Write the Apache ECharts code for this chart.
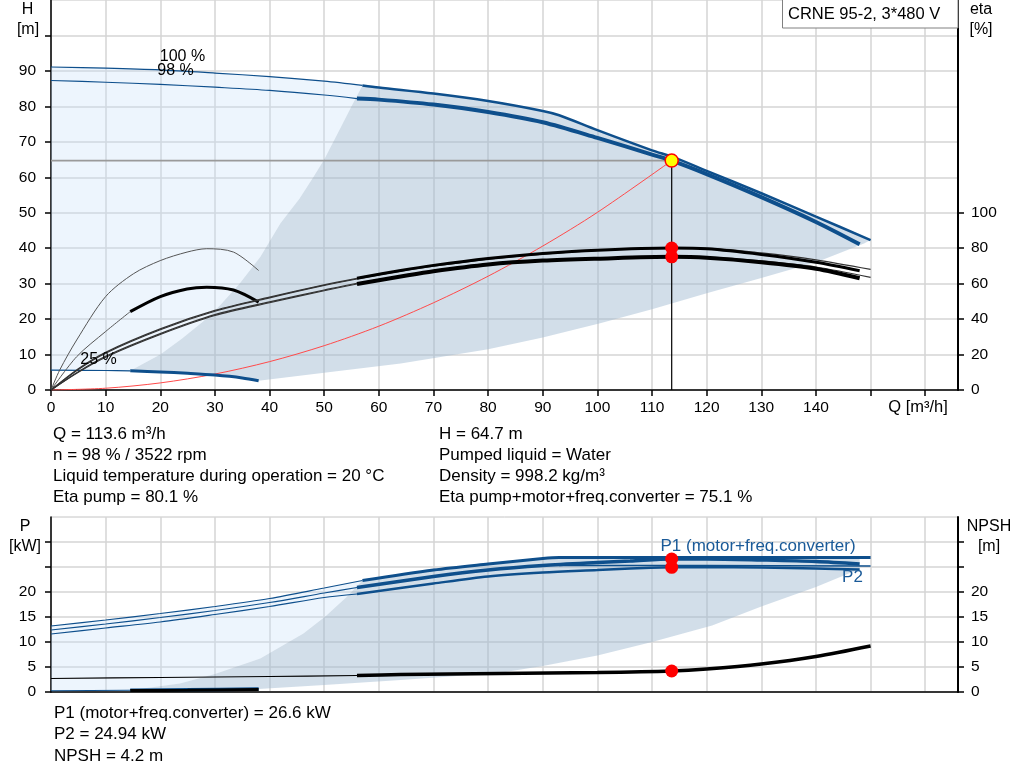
<!DOCTYPE html>
<html><head><meta charset="utf-8">
<script src="https://cdn.jsdelivr.net/npm/echarts@6/dist/echarts.min.js"></script>
<style>html,body{margin:0;padding:0;background:#fff}#c{width:1024px;height:781px}</style>
</head><body><div id="c"></div>
<script>
// ---------- axis ticks / labels ----------
const qTicks = [0,10,20,30,40,50,60,70,80,90,100,110,120,130,140,150,160];
const qLabels = [0,10,20,30,40,50,60,70,80,90,100,110,120,130,140];
const hTicks = [0,10,20,30,40,50,60,70,80,90,100];
const hLabels = [0,10,20,30,40,50,60,70,80,90];
const etaTicks = [0,20,40,60,80,100];
const pTicks = [0,5,10,15,20,25,30];
const pLabels = [0,5,10,15,20];

// ---------- operating point ----------
const opQ = 113.6, opH = 64.7, opEtaPump = 80.1, opEtaTot = 75.1, opP1 = 26.6, opP2 = 24.94, opNPSH = 4.2;

// ---------- head curves [Q, H] ----------
const H100 = [[0,91.1],[10,90.8],[20,90.3],[30,89.4],[40,88.4],[50,87.1],[57,85.9],[60,85.3],[70,83.6],[80,81.5],[90,78.7],[93,77.5],[100,73.3],[110,67.6],[114,65.6],[120,61.8],[130,55.5],[140,48.9],[150,42.3]];
const H98 = [[0,87.3],[10,86.8],[20,86.2],[30,85.4],[40,84.5],[50,83.2],[56,82.2],[60,81.9],[70,80.5],[80,78.4],[90,75.5],[100,71.1],[110,66.4],[113.6,64.7],[120,60.9],[130,54.4],[140,47.4],[148,41.1]];
const H25 = [[0,5.6],[10,5.5],[14.5,5.4],[20,5.1],[25,4.7],[30,4.2],[35,3.4],[38,2.6]];
const SYS = [[0,0],[10,0.5],[20,2.0],[30,4.5],[40,8.0],[50,12.5],[60,18.0],[70,24.6],[80,32.1],[90,40.6],[100,50.1],[113.6,64.7]];
const darkLeftTop = [[14.5,5.4],[20,10],[24,14.5],[28,19.5],[31,24],[34.5,30],[38.3,37.5],[42,47],[45.5,54],[48,60],[50,65],[53,74],[55,80],[57,85.9]];
const darkLowTop = [[38,2.6],[50,4.9],[64,7.5],[80,11.5],[90,14.8],[100.5,18.8],[110,22.8],[120,27.3],[130,31.6],[140.3,36.2],[148.8,41.3]];

// ---------- efficiency curves [Q, eta %] ----------
const etaPump98 = [[0,0],[5,12],[10,21.3],[20,34.5],[30,44.9],[40,52.4],[50,59.3],[56,63],[64,67.4],[70,70.3],[80,74.2],[90,77],[100,78.9],[113.6,80.1],[120,79.7],[130,76.5],[140,72.1],[148,67.3]];
const etaPump100 = [[0,0],[5,11.6],[10,20.8],[20,34],[30,44.4],[40,52],[50,59],[56,62.6],[64,67],[70,69.8],[80,73.8],[90,76.7],[100,78.7],[110,79.9],[120,79.9],[130,77.3],[140,73.4],[150,68]];
const etaTot98 = [[0,0],[5,10],[10,18.5],[20,31.3],[30,42],[40,49.2],[50,56],[56,59.8],[64,64],[70,67],[80,70.8],[90,73],[100,74.1],[113.6,75.1],[120,74.6],[130,72.1],[140,68.4],[148,63]];
const etaTot100 = [[0,0],[5,10.3],[10,19],[20,31.8],[30,42.5],[40,49.7],[50,56.4],[56,60.2],[64,64.3],[70,67.3],[80,71],[90,73.2],[100,74.3],[110,75.1],[120,75],[130,72.8],[140,69.4],[150,63.5]];
const etaArch1 = [[0,0],[1.6,11.3],[4.7,28.2],[10,52.7],[15.1,65.6],[20,73],[24.9,77.8],[28.5,79.7],[33.4,77.8],[38,67.4]];
const etaArch2 = [[0,0],[4.7,18.8],[10,33],[14.5,44.2],[20,52.7],[24.9,57],[28.5,58],[33.4,56.4],[38,49.6]];

// ---------- power / NPSH curves [Q, value] ----------
const P1_100 = [[0,13.2],[10,14.4],[20,15.7],[30,17.1],[40,18.7],[50,20.8],[57,22.3],[70,24.4],[80,25.6],[90,26.7],[93,26.9],[100,26.9],[110,26.9],[120,26.9],[130,26.9],[140,26.9],[148,26.9],[150,26.9]];
const P1_98 = [[0,12.4],[10,13.6],[20,14.9],[30,16.3],[40,17.9],[50,19.8],[56,20.9],[70,23.1],[80,24.4],[90,25.3],[100,25.9],[106,26.2],[113.6,26.6],[120,26.6],[130,26.4],[140,26.1],[148,25.6]];
const P2_98 = [[0,11.6],[10,12.8],[20,14.0],[30,15.5],[40,17.1],[50,18.9],[56,19.6],[70,21.7],[80,23.1],[90,23.9],[100,24.4],[106,24.7],[113.6,24.94],[120,25.0],[130,24.9],[140,24.7],[148,24.5]];
const P2_100 = [[93,25.3],[100,25.3],[120,25.3],[150,25.2]];
const P25 = [[0,0.25],[14.5,0.35],[25,0.45],[38,0.6]];
const NPSH = [[0,2.7],[20,2.9],[40,3.1],[56,3.3],[64,3.5],[82,3.7],[100,3.9],[113.6,4.2],[120,4.6],[130,5.6],[140,7.1],[150,9.2]];
const NPSH25 = [[14.5,0.3],[25,0.35],[38,0.5]];
const bLeft = [[14.5,0.35],[23.6,1.7],[30,3.6],[38.3,6.7],[46.2,11.7],[50.2,15.1],[54.2,19.1],[57,22.3]];
const bLow = [[38,0.6],[50,1.4],[64,2.4],[73,3.1],[82,3.8],[90,5.2],[100,7.3],[110,10],[121,13.3],[130,17.1],[140,21],[146,23.7],[148,24.5]];

// ---------- styling ----------
const FF = '"Liberation Sans", Arial, sans-serif';
const BLUE = '#0e4f8c';
const GRIDC = '#d4d4d4';
const LIGHT = 'rgba(200,225,250,0.32)';
const DARK = 'rgba(160,185,210,0.48)';

const rng = (arr, a, b) => arr.filter(p => p[0] >= a && p[0] <= b);
const rev = arr => arr.slice().reverse();

// polygons built from the named arrays
const lightTop = [...rng(H100,0,57), ...rev(darkLeftTop), ...rev(rng(H25,0,14.5))];
const darkTop = [...darkLeftTop, ...rng(H100,57.01,150), ...rev(darkLowTop), ...rev(rng(H25,14.51,37.9))];
const lightBot = [...rng(P1_100,0,57), ...rev(bLeft), ...rev(rng(P25,0,14.5))];
const darkBot = [...bLeft, ...rng(P1_100,57.01,148), ...rev(bLow), ...rev(rng(P25,14.51,37.9))];

function poly(points, fill, xi, yi) {
  return { type:'custom', xAxisIndex:xi, yAxisIndex:yi, silent:true, z:1, clip:true, animation:false,
    data:[points[0]],
    renderItem:function(params, api){
      return {type:'polygon', shape:{points:points.map(p=>api.coord(p)), smooth:0}, style:{fill:fill}};
    }};
}
function ln(data, color, width, xi, yi, z, smooth) {
  return { type:'line', data:data, xAxisIndex:xi, yAxisIndex:yi, symbol:'none', showSymbol:false,
    smooth: smooth === undefined ? 0.3 : smooth, clip:true, silent:true, animation:false,
    z: z || 3, lineStyle:{color:color, width:width} };
}
function dot(pt, xi, yi, fill, stroke, size) {
  return { type:'scatter', data:[pt], xAxisIndex:xi, yAxisIndex:yi, symbol:'circle', symbolSize:size,
    silent:true, animation:false, z:10,
    itemStyle:{color:fill, borderColor:stroke, borderWidth: stroke ? 1.5 : 0, opacity:1} };
}

const lbl = (vals, margin) => ({customValues:vals, color:'#000', fontSize:15.5, fontFamily:FF, margin:margin});
const tick = (vals, show) => ({show:show, customValues:vals, length:6, inside:false, lineStyle:{color:'#000', width:1.5}});
const axLine = w => ({show:true, onZero:false, lineStyle:{color:'#000', width:w}});
const split = show => ({show:show, lineStyle:{color:GRIDC, width:1.5}});

const series = [
  poly(lightTop, LIGHT, 0, 0),
  poly(darkTop, DARK, 0, 0),
  ln(SYS, '#ff4a4a', 1, 0, 0, 3),
  ln([[0,opH],[opQ,opH]], '#9a9a9a', 1.6, 0, 0, 3, false),
  ln([[opQ,0],[opQ,opH]], '#000', 1.2, 0, 0, 4, false),
  ln(rng(H25,0,14.5), BLUE, 1.2, 0, 0),
  ln(rng(H25,14.5,38), BLUE, 3, 0, 0),
  ln(rng(H100,0,57), BLUE, 1.2, 0, 0),
  ln(rng(H100,57,150), BLUE, 2.5, 0, 0),
  ln(rng(H98,0,56), BLUE, 1.2, 0, 0),
  ln(rng(H98,56,150), BLUE, 4, 0, 0),
  ln(etaArch1, '#555', 1, 0, 1),
  ln(rng(etaArch2,0,14.5), '#555', 1, 0, 1),
  ln(rng(etaArch2,14.5,38), '#000', 3, 0, 1),
  ln(rng(etaPump100,0,150), '#333', 1.2, 0, 1),
  ln(rng(etaTot100,0,150), '#333', 1.2, 0, 1),
  ln(rng(etaPump98,0,56), '#333', 1.2, 0, 1),
  ln(rng(etaTot98,0,56), '#333', 1.2, 0, 1),
  ln(rng(etaPump98,56,150), '#000', 3, 0, 1),
  ln(rng(etaTot98,56,150), '#000', 4, 0, 1),
  dot([opQ,opEtaPump], 0, 1, '#ff0000', null, 13),
  dot([opQ,opEtaTot], 0, 1, '#ff0000', null, 13),
  dot([opQ,opH], 0, 0, '#ffff00', '#ff0000', 13),

  poly(lightBot, LIGHT, 1, 2),
  poly(darkBot, DARK, 1, 2),
  ln(rng(P25,0,14.5), BLUE, 1.2, 1, 2),
  ln(rng(P25,14.5,38), BLUE, 3.5, 1, 2),
  ln(NPSH25, '#000', 3, 1, 3),
  ln(rng(NPSH,0,56), '#000', 1.2, 1, 3),
  ln(rng(NPSH,56,150), '#000', 3.5, 1, 3),
  ln(rng(P1_100,0,57), BLUE, 1.2, 1, 2),
  ln(rng(P1_100,57,150), BLUE, 3, 1, 2),
  ln(P2_100, BLUE, 1.5, 1, 2),
  ln(rng(P1_98,0,56), BLUE, 1.2, 1, 2),
  ln(rng(P1_98,56,150), BLUE, 3.5, 1, 2),
  ln(rng(P2_98,0,56), BLUE, 1.2, 1, 2),
  ln(rng(P2_98,56,150), BLUE, 2.5, 1, 2),
  dot([opQ,opP1], 1, 2, '#ff0000', null, 13),
  dot([opQ,opP2], 1, 2, '#ff0000', null, 13),
  dot([opQ,opNPSH], 1, 3, '#ff0000', null, 13)
];

function txt(t, x, y, opt) {
  opt = opt || {};
  return { type:'text', x:x, y:y, z:100, silent:true,
    style:{ text:t, fill:opt.color || '#000', font:(opt.size || 16) + 'px ' + FF,
      textAlign:opt.align || 'center', textVerticalAlign:'middle',
      align:opt.align || 'center', verticalAlign:'middle' } };
}
const infoTop = ['Q = 113.6 m³/h', 'n = 98 % / 3522 rpm', 'Liquid temperature during operation = 20 °C', 'Eta pump = 80.1 %'];
const infoTopR = ['H = 64.7 m', 'Pumped liquid = Water', 'Density = 998.2 kg/m³', 'Eta pump+motor+freq.converter = 75.1 %'];
const infoBot = ['P1 (motor+freq.converter) = 26.6 kW', 'P2 = 24.94 kW', 'NPSH = 4.2 m'];

const graphics = [
  { type:'rect', z:99, silent:true, shape:{x:782.5, y:-1, width:175.5, height:29}, style:{fill:'#fff', stroke:'#808080', lineWidth:1} },
  txt('CRNE 95-2, 3*480 V', 788, 14, {align:'left', size:16.5}),
  txt('H', 27.5, 10), txt('[m]', 28, 30),
  txt('eta', 981, 10), txt('[%]', 981, 30),
  txt('Q [m³/h]', 918, 407, {size:16.5}),
  txt('P', 25, 527), txt('[kW]', 25, 547),
  txt('NPSH', 989, 527), txt('[m]', 989, 547),
  txt('100 %', 182.5, 56.5), txt('98 %', 175.5, 70.5), txt('25 %', 98.5, 359.5),
  txt('P1 (motor+freq.converter)', 758, 546, {color:'#1a5a98', size:17}),
  txt('P2', 852.5, 577, {color:'#1a5a98', size:17})
];
infoTop.forEach((t,i) => graphics.push(txt(t, 53, 434 + i*21, {align:'left', size:17})));
infoTopR.forEach((t,i) => graphics.push(txt(t, 439, 434 + i*21, {align:'left', size:17})));
infoBot.forEach((t,i) => graphics.push(txt(t, 54, 713 + i*21.5, {align:'left', size:17})));

const option = {
  backgroundColor:'#fff',
  animation:false,
  grid:[
    {left:51, top:0, width:907, height:390, show:true, borderColor:'#c4c4c4', borderWidth:1, backgroundColor:'transparent', containLabel:false, outerBoundsMode:'none'},
    {left:51, top:517, width:907, height:175, show:true, borderColor:'#c4c4c4', borderWidth:1, backgroundColor:'transparent', containLabel:false, outerBoundsMode:'none'}
  ],
  xAxis:[
    {gridIndex:0, type:'value', min:0, max:166, interval:10, axisLine:axLine(1.5), axisTick:tick(qTicks,true), axisLabel:lbl(qLabels,10), splitLine:split(true)},
    {gridIndex:1, type:'value', min:0, max:166, interval:10, axisLine:axLine(1.5), axisTick:{show:false}, axisLabel:{show:false}, splitLine:split(true)}
  ],
  yAxis:[
    {gridIndex:0, type:'value', position:'left', min:0, max:110, interval:10, axisLine:axLine(1.5), axisTick:tick(hTicks,true), axisLabel:lbl(hLabels,15), splitLine:split(true)},
    {gridIndex:0, type:'value', position:'right', min:0, max:220, interval:20, axisLine:axLine(2), axisTick:tick(etaTicks,true), axisLabel:lbl(etaTicks,13), splitLine:split(false)},
    {gridIndex:1, type:'value', position:'left', min:0, max:35, interval:5, axisLine:axLine(1.5), axisTick:tick(pTicks,true), axisLabel:lbl(pLabels,15), splitLine:split(true)},
    {gridIndex:1, type:'value', position:'right', min:0, max:35, interval:5, axisLine:axLine(2), axisTick:tick(pTicks,true), axisLabel:lbl(pLabels,13), splitLine:split(false)}
  ],
  series:series,
  graphic:graphics
};
const chart = echarts.init(document.getElementById('c'));
chart.setOption(option);
</script></body></html>
